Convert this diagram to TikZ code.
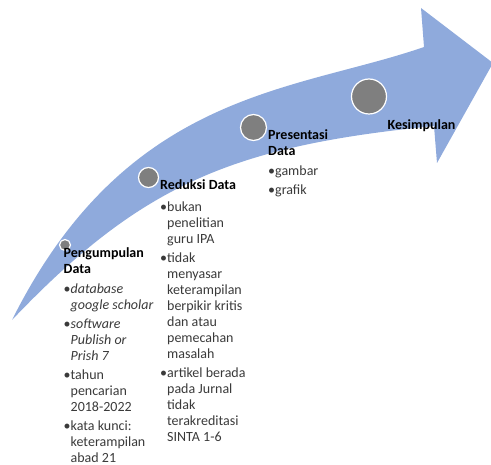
\documentclass[tikz,border=0pt]{standalone}
\usepackage{fontspec}
\setmainfont{Carlito}
\definecolor{arrowblue}{HTML}{8FAADC}
\definecolor{dotgray}{HTML}{7F7F7F}
\definecolor{bodytext}{HTML}{3A3A3A}
\newcommand\ind{\hphantom{•}}
\tikzset{
  dot/.style={circle, fill=dotgray, draw=white, line width=1.2pt, inner sep=0pt},
  col/.style={anchor=north west, inner sep=0pt, align=left, text=bodytext,
    font=\fontsize{14}{16}\selectfont},
  head/.style={anchor=base west, inner sep=0pt, align=left,
    font=\fontsize{14}{16}\selectfont\bfseries, text=black}
}
\begin{document}
\begin{tikzpicture}[x=1pt,y=-1pt]
\useasboundingbox (0,0) rectangle (491,465);
% arrow
\fill[arrowblue] (12,320) .. controls (127,90) and (294,92) .. (424,47)
  -- (421,8) -- (493,63) -- (437,163) -- (434,126)
  .. controls (234,146) and (142,183.5) .. (12,320) -- cycle;
% dots
\node[dot, minimum size=11pt] (d1) at (65,245) {};
\node[dot, minimum size=20pt] (d2) at (148.5,177.5) {};
\node[dot, minimum size=26pt] (d3) at (253.5,127.5) {};
\node[dot, minimum size=35pt] (d4) at (369,96.5) {};
% column 1
\node[col] (c1) at (63.5,246.5) {\strut{\color{black}\bfseries Pengumpulan}\\{\color{black}\bfseries Data}\\[4pt]
•\textit{database}\\\ind\textit{google scholar}\\[3pt]
•\textit{software}\\\ind\textit{Publish or}\\\ind\textit{Prish 7}\\[3pt]
•tahun\\\ind pencarian\\\ind 2018-2022\\[3pt]
•kata kunci:\\\ind keterampilan\\\ind abad 21};
% column 2
\node[col] (c2) at (160,177.8) {\strut{\color{black}\bfseries Reduksi Data}\\[6pt]
•bukan\\\ind penelitian\\\ind guru IPA\\[3pt]
•tidak\\\ind menyasar\\\ind keterampilan\\\ind berpikir kritis\\\ind dan atau\\\ind pemecahan\\\ind masalah\\[3pt]
•artikel berada\\\ind pada Jurnal\\\ind tidak\\\ind terakreditasi\\\ind SINTA 1-6};
% column 3
\node[col] (c3) at (268,127.8) {\strut{\color{black}\bfseries Presentasi}\\{\color{black}\bfseries Data}\\[4.5pt]
•gambar\\[2.5pt]
•grafik};
% column 4
\node[head] (c4) at (387.5,130) {Kesimpulan};
\end{tikzpicture}
\end{document}
